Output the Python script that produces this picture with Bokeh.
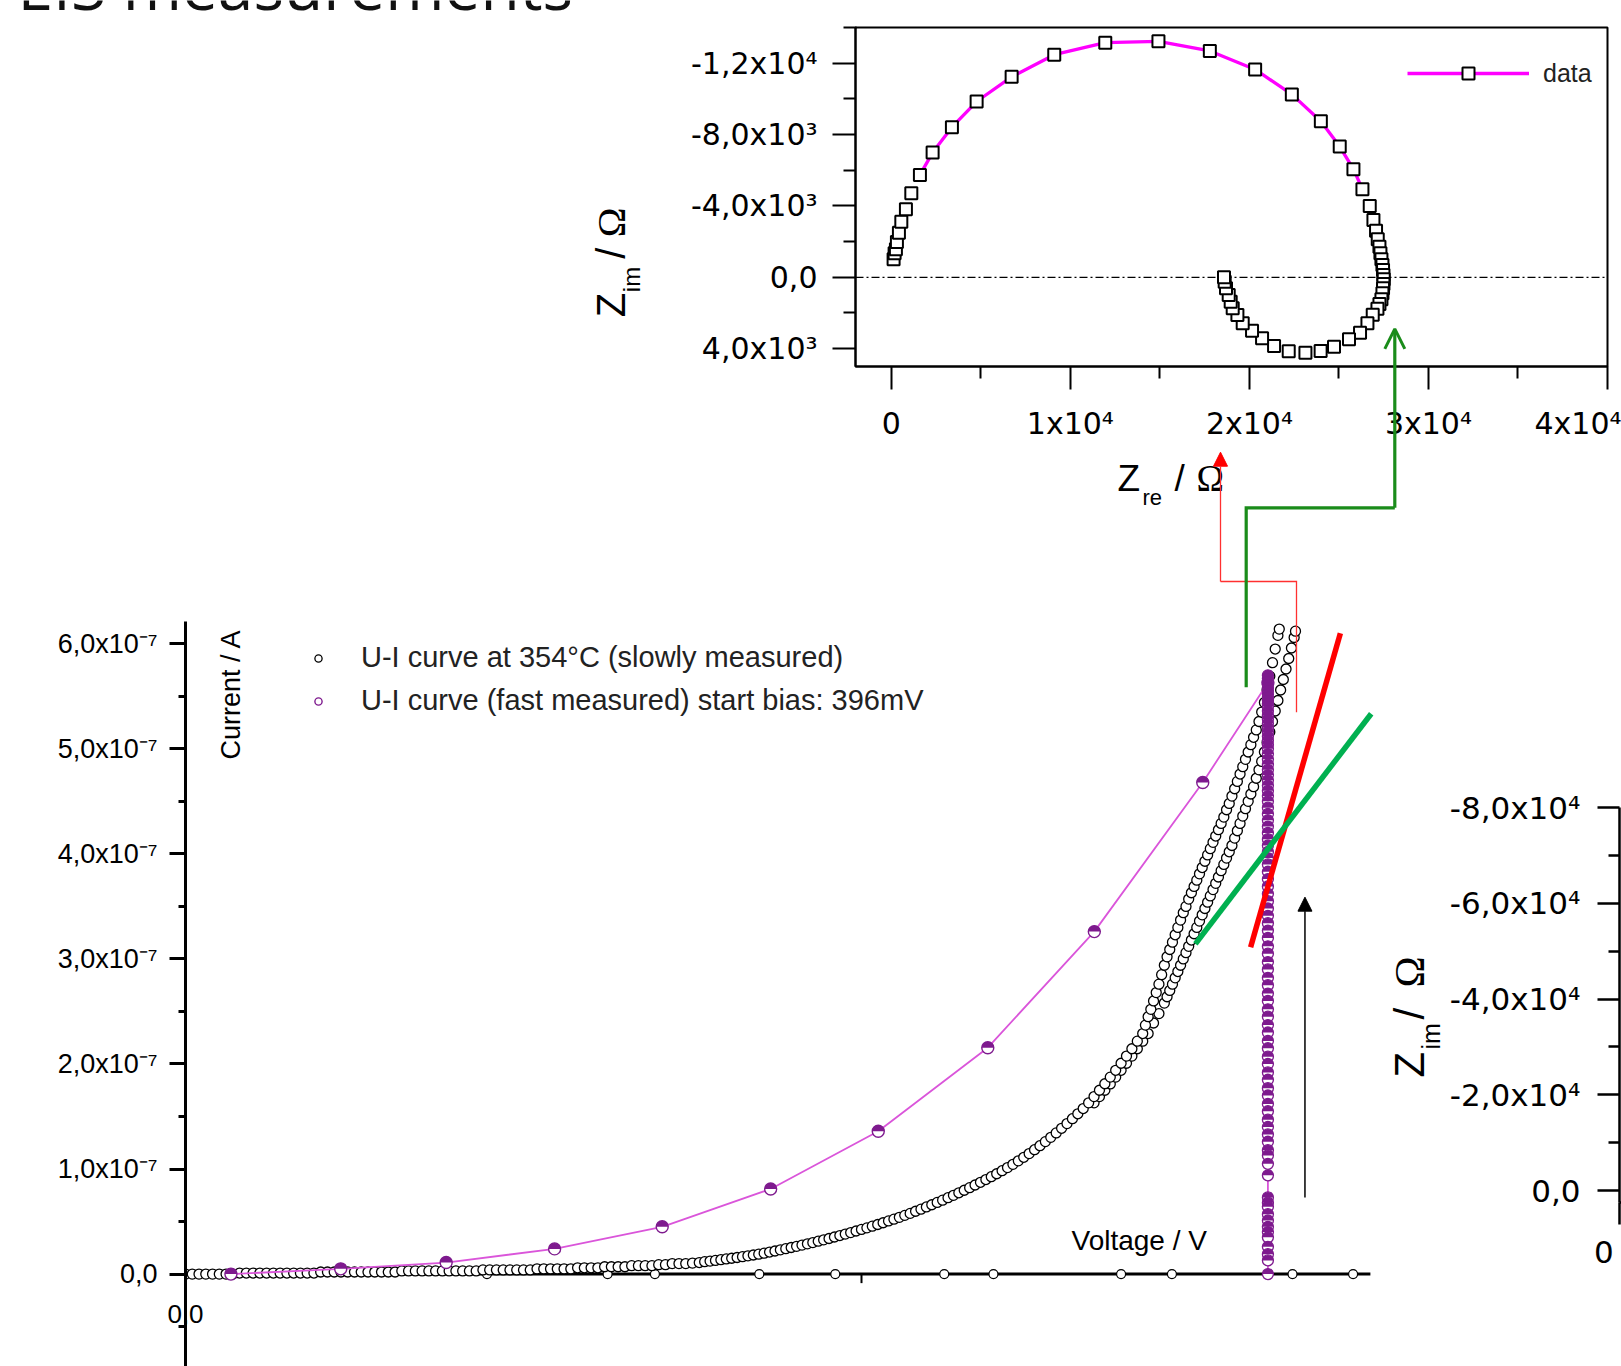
import math
from bokeh.plotting import figure
from bokeh.layouts import column, row
from bokeh.models import (Range1d, FixedTicker, Label, Arrow, NormalHead, OpenHead,
                          Legend, LegendItem, ColumnDataSource, Span, Spacer)
from bokeh.embed import file_html
from bokeh.resources import INLINE

# ======================= DATA =======================
# --- EIS spectrum (Nyquist), Ohm ---
nyq_zre = [128, 184, 257, 313, 425, 559, 816, 1117, 1598, 2307, 3385, 4765,
           6720, 9100, 11950, 14920, 17790, 20320, 22370, 23990, 25045, 25810,
           26313, 26721, 26927, 27073, 27168, 27263, 27318, 27374, 27430, 27464,
           27486, 27503, 27486, 27464, 27430, 27374, 27263, 27151, 26888, 26592,
           26179, 25564, 24726, 23978, 23129, 22196, 21377, 20707, 20147, 19626,
           19330, 19067, 18955, 18844, 18693, 18620, 18581]
nyq_zim = [-1010, -1346, -1571, -1980, -2502, -3119, -3815, -4712, -5739, -6990,
           -8415, -9851, -11237, -12476, -13150, -13225, -12684, -11650, -10250,
           -8750, -7328, -6059, -4937, -4000, -3215, -2615, -2132, -1717, -1346,
           -1010, -690, -410, -129, 112, 376, 617, 898, 1234, 1500, 1760, 2098,
           2581, 3108, 3478, 3893, 4135, 4230, 4140, 3850, 3422, 2996, 2581, 2115,
           1739, 1369, 993, 617, 247, 0]
nyq_line_first, nyq_line_last = 8, 22          # points joined by the magenta line

nyq_xticks = [0, 10000, 20000, 30000, 40000]
nyq_xminor = [5000, 15000, 25000, 35000]
nyq_xlabels = ["0", "1x10⁴", "2x10⁴", "3x10⁴", "4x10⁴"]
nyq_yticks = [-12000, -8000, -4000, 0, 4000]
nyq_yminor = [-10000, -6000, -2000, 2000]
nyq_ylabels = ["-1,2x10⁴", "-8,0x10³", "-4,0x10³", "0,0", "4,0x10³"]

# --- U-I curves: voltage in V, current in units of 1e-7 A ---
slowA_V = [0.0000, 0.0025, 0.0050, 0.0075, 0.0100, 0.0125, 0.0150, 0.0175, 0.0200, 0.0225,
           0.0250, 0.0275, 0.0300, 0.0325, 0.0350, 0.0375, 0.0400, 0.0425, 0.0450, 0.0475,
           0.0500, 0.0525, 0.0550, 0.0575, 0.0600, 0.0625, 0.0650, 0.0675, 0.0700, 0.0725,
           0.0750, 0.0775, 0.0800, 0.0825, 0.0850, 0.0875, 0.0900, 0.0925, 0.0950, 0.0975,
           0.1000, 0.1025, 0.1050, 0.1075, 0.1100, 0.1125, 0.1150, 0.1175, 0.1200, 0.1225,
           0.1250, 0.1275, 0.1300, 0.1325, 0.1350, 0.1375, 0.1400, 0.1425, 0.1450, 0.1475,
           0.1500, 0.1525, 0.1550, 0.1575, 0.1600, 0.1625, 0.1650, 0.1675, 0.1700, 0.1725,
           0.1750, 0.1775, 0.1800, 0.1825, 0.1850, 0.1875, 0.1900,
           0.192, 0.194, 0.196, 0.198, 0.200, 0.202, 0.204, 0.206, 0.208, 0.210,
           0.212, 0.214, 0.216, 0.218, 0.220, 0.222, 0.224, 0.226, 0.228, 0.230,
           0.232, 0.234, 0.236, 0.238, 0.240, 0.242, 0.244, 0.246, 0.248, 0.250,
           0.252, 0.254, 0.256, 0.258, 0.260, 0.262, 0.264, 0.266, 0.268, 0.270,
           0.272, 0.274, 0.276, 0.278, 0.280, 0.282, 0.284, 0.286, 0.288, 0.290,
           0.292, 0.294, 0.296, 0.298, 0.300, 0.302, 0.304, 0.306, 0.308, 0.310,
           0.312, 0.314, 0.316, 0.318, 0.320, 0.322, 0.324, 0.326, 0.328, 0.330,
           0.332, 0.334, 0.336, 0.338, 0.340, 0.342, 0.344, 0.346, 0.348, 0.350,
           0.352, 0.354,
           0.355, 0.356, 0.357, 0.358, 0.359, 0.360, 0.361, 0.362, 0.363, 0.364,
           0.365, 0.366, 0.367, 0.368, 0.369, 0.370, 0.371, 0.372, 0.373, 0.374,
           0.375, 0.376, 0.377, 0.378, 0.379, 0.380, 0.381, 0.382, 0.383, 0.384,
           0.385, 0.386, 0.387, 0.388, 0.389, 0.390, 0.391, 0.392, 0.393, 0.394,
           0.395, 0.396, 0.397, 0.398, 0.399, 0.400, 0.401, 0.402, 0.403, 0.404,
           0.4045]
slowA_I = [0.00, 0.00, 0.00, 0.00, 0.00, 0.00, 0.00, 0.00, 0.01, 0.01,
           0.01, 0.01, 0.01, 0.01, 0.01, 0.01, 0.01, 0.01, 0.01, 0.01,
           0.02, 0.02, 0.02, 0.02, 0.02, 0.02, 0.02, 0.02, 0.02, 0.02,
           0.02, 0.02, 0.03, 0.03, 0.03, 0.03, 0.03, 0.03, 0.03, 0.03,
           0.03, 0.03, 0.03, 0.03, 0.04, 0.04, 0.04, 0.04, 0.04, 0.04,
           0.04, 0.04, 0.05, 0.05, 0.05, 0.05, 0.05, 0.05, 0.06, 0.06,
           0.06, 0.06, 0.07, 0.07, 0.07, 0.07, 0.08, 0.08, 0.08, 0.08,
           0.09, 0.09, 0.10, 0.10, 0.10, 0.105, 0.11,
           0.118, 0.124, 0.130, 0.137, 0.144, 0.151, 0.158, 0.166, 0.174, 0.182,
           0.190, 0.199, 0.210, 0.220, 0.231, 0.242, 0.253, 0.264, 0.276, 0.288,
           0.300, 0.313, 0.326, 0.339, 0.353, 0.367, 0.381, 0.395, 0.410, 0.425,
           0.440, 0.456, 0.472, 0.489, 0.506, 0.523, 0.540, 0.559, 0.578, 0.598,
           0.618, 0.639, 0.660, 0.682, 0.704, 0.727, 0.750, 0.774, 0.798, 0.823,
           0.848, 0.874, 0.900, 0.927, 0.955, 0.984, 1.014, 1.045, 1.078, 1.112,
           1.147, 1.184, 1.222, 1.261, 1.302, 1.344, 1.388, 1.433, 1.479, 1.526,
           1.576, 1.630, 1.690, 1.750, 1.812, 1.875, 1.940, 2.007, 2.075, 2.145,
           2.217, 2.290,
           2.37, 2.45, 2.52, 2.60, 2.68, 2.76, 2.85, 2.94, 3.02, 3.09,
           3.16, 3.23, 3.30, 3.37, 3.44, 3.50, 3.57, 3.63, 3.69, 3.75,
           3.81, 3.87, 3.93, 3.99, 4.05, 4.11, 4.17, 4.23, 4.29, 4.35,
           4.42, 4.48, 4.55, 4.62, 4.69, 4.76, 4.83, 4.90, 4.97, 5.04,
           5.11, 5.18, 5.26, 5.35, 5.44, 5.56, 5.69, 5.82, 5.95, 6.08,
           6.14]
slowB_V = [0.336, 0.338, 0.340, 0.342, 0.344, 0.346, 0.348, 0.350, 0.352, 0.354,
           0.356, 0.358, 0.360, 0.362,
           0.363, 0.364, 0.365, 0.366, 0.367, 0.368, 0.369, 0.370, 0.371, 0.372,
           0.373, 0.374, 0.375, 0.376, 0.377, 0.378, 0.379, 0.380, 0.381, 0.382,
           0.383, 0.384, 0.385, 0.386, 0.387, 0.388, 0.389, 0.390, 0.391, 0.392,
           0.393, 0.394, 0.395, 0.396, 0.397, 0.398, 0.399, 0.400, 0.401, 0.402,
           0.403, 0.404, 0.405, 0.406, 0.407, 0.408, 0.409, 0.410, 0.4105]
slowB_I = [1.63, 1.69, 1.75, 1.81, 1.875, 1.94, 2.007, 2.075, 2.145, 2.217,
           2.29, 2.39, 2.48, 2.58,
           2.64, 2.70, 2.76, 2.82, 2.88, 2.94, 3.00, 3.06, 3.12, 3.18,
           3.24, 3.30, 3.36, 3.42, 3.48, 3.54, 3.60, 3.66, 3.72, 3.78,
           3.84, 3.90, 3.96, 4.02, 4.08, 4.15, 4.22, 4.29, 4.36, 4.43,
           4.50, 4.57, 4.64, 4.72, 4.80, 4.88, 4.97, 5.06, 5.16, 5.26,
           5.36, 5.46, 5.56, 5.66, 5.76, 5.86, 5.96, 6.06, 6.12]
fast_V = [0.0168, 0.0574, 0.0964, 0.1365, 0.1763, 0.2164, 0.2562, 0.2967, 0.3361, 0.3762, 0.4003]
fast_I = [0.00, 0.05, 0.11, 0.24, 0.45, 0.81, 1.36, 2.155, 3.26, 4.68, 5.63]
hold_V = 0.4003
hold_I = [5.70, 5.67, 5.64, 5.61, 5.58, 5.55, 5.52, 5.49, 5.46, 5.43, 5.40, 5.36, 5.32,
          5.28, 5.24, 5.20, 5.16, 5.12, 5.08, 5.04, 5.00, 4.95, 4.90, 4.85, 4.80, 4.75,
          4.70, 4.65, 4.60, 4.55, 4.50, 4.44, 4.38, 4.32, 4.26, 4.20, 4.14, 4.08, 4.02,
          3.96, 3.90, 3.83, 3.76, 3.69, 3.62, 3.55, 3.48, 3.41, 3.34, 3.27, 3.20, 3.12,
          3.05, 2.97, 2.90, 2.82, 2.75, 2.67, 2.60, 2.52, 2.45, 2.37, 2.30, 2.22, 2.15,
          2.07, 2.00, 1.92, 1.85, 1.77, 1.70, 1.62, 1.55, 1.47, 1.40, 1.33, 1.26, 1.18,
          1.13, 1.05, 0.94, 0.73, 0.68, 0.64, 0.57, 0.51, 0.45, 0.40, 0.35, 0.26, 0.19,
          0.13, 0.00]
zero_V = [0.1115, 0.1561, 0.1736, 0.2122, 0.2403, 0.2806, 0.2988, 0.3460, 0.3648, 0.4094, 0.4318]
# slope lines (V, 1e-7 A)
red_slope_V = [0.3939, 0.4271]
red_slope_I = [3.112, 6.101]
green_slope_V = [0.3735, 0.4385]
green_slope_I = [3.144, 5.334]

ui_yticks = [-1, 0, 1, 2, 3, 4, 5, 6]
ui_yminor = [-1.5, -0.5, 0.5, 1.5, 2.5, 3.5, 4.5, 5.5]
ui_ylabels = ["-1,0x10⁻⁷", "0,0", "1,0x10⁻⁷", "2,0x10⁻⁷", "3,0x10⁻⁷", "4,0x10⁻⁷", "5,0x10⁻⁷", "6,0x10⁻⁷"]
ui_xtick_V = 0.25
ui_xaxis_end_V = 0.4382

rt_yticks = [-80000, -60000, -40000, -20000, 0]
rt_yminor = [-70000, -50000, -30000, -10000]
rt_ylabels = ["-8,0x10⁴", "-6,0x10⁴", "-4,0x10⁴", "-2,0x10⁴", "0,0"]

# ======================= LAYOUT (page px) =======================
PAGE_W, PAGE_H = 1621, 1366
TOP_H, TITLE_W = 500, 580
NQ_L, NQ_R, NQ_T, NQ_B = 855, 1607, 27, 366
NQ_X = (-2000, 40000)
NQ_Y = (5000, -14000)
UI_W, UI_L = 1385, 185
UI_X = (0.0, 0.443787)
UI_Y = (-0.8796, 7.3639)
RT_L, RT_T, RT_B = 1619, 807, 1202
RT_Y = (2500, -80000)

# connector paths of the slide (page px)
red_path_x, red_path_y = [1296, 1296, 1220], [711.7, 581, 581]
red_tip = (1220, 451.7)
green_path_x, green_path_y = [1245.7, 1245.7, 1394.3], [686.7, 507.3, 507.3]
green_tip = (1394.3, 328.3)

SANS = "Liberation Sans"
SERIF = "Liberation Serif"
TICKF = "DejaVu Sans"
RED, GREEN_D, GREEN_B = "#FF0000", "#1A8C1A", "#00B050"
PURPLE, MAGENTA_L = "#7E1A8E", "#DA55DA"
BASE_FIX = 0.38   # em offset between requested and rendered alphabetic baseline


def mkfig(w, h, xr, yr, **kw):
    p = figure(width=w, height=h, x_range=Range1d(*xr), y_range=Range1d(*yr),
               output_backend="svg", toolbar_location=None, title=None, **kw)
    p.grid.visible = False
    p.outline_line_color = None
    p.background_fill_color = "white"
    p.border_fill_color = "white"
    if "frame_align" in p.properties():
        p.frame_align = False
    return p


def style_axis(ax, lw, tout, mout, font, fsize, standoff):
    ax.axis_line_width = lw
    ax.axis_line_color = "black"
    ax.major_tick_out = tout
    ax.major_tick_in = 0
    ax.minor_tick_out = mout
    ax.minor_tick_in = 0
    ax.major_tick_line_width = lw
    ax.minor_tick_line_width = lw
    ax.major_tick_line_color = "black"
    ax.minor_tick_line_color = "black"
    ax.major_label_text_font = font
    ax.major_label_text_font_size = fsize
    ax.major_label_text_color = "black"
    ax.major_label_standoff = standoff


A90 = math.pi / 2


def lbl(p, x, y, text, size, font=SANS, angle=0.0, color="black", align="left"):
    # (x, y): page position of the text's baseline start (y grows downward)
    if angle:
        x = x - BASE_FIX * size
    else:
        y = y - BASE_FIX * size
    p.add_layout(Label(x=x, y=y, text=text, text_font=font, text_font_size=f"{size}px",
                       text_color=color, angle=angle, text_align=align, text_baseline="alphabetic"))


# ---------------- Nyquist plot ----------------
nq = mkfig(PAGE_W - TITLE_W, TOP_H, NQ_X, NQ_Y,
           min_border_left=NQ_L - TITLE_W, min_border_right=PAGE_W - NQ_R,
           min_border_top=NQ_T, min_border_bottom=TOP_H - NQ_B)
nq.outline_line_color = "black"
nq.outline_line_width = 2
style_axis(nq.xaxis[0], 2, 23, 12, TICKF, "30px", 16)
style_axis(nq.yaxis[0], 2, 23, 12, TICKF, "30px", 15)
nq.xaxis.ticker = FixedTicker(ticks=nyq_xticks, minor_ticks=nyq_xminor)
nq.xaxis.major_label_overrides = dict(zip(nyq_xticks, nyq_xlabels))
nq.yaxis.ticker = FixedTicker(ticks=nyq_yticks, minor_ticks=nyq_yminor)
nq.yaxis.major_label_overrides = dict(zip(nyq_yticks, nyq_ylabels))
nq.add_layout(Span(location=0, dimension="width", line_color="black", line_width=1.3,
                   line_dash="8 3 2 3", level="underlay"))
seg = ColumnDataSource(dict(zre=nyq_zre[nyq_line_first:nyq_line_last + 1],
                            zim=nyq_zim[nyq_line_first:nyq_line_last + 1]))
allp = ColumnDataSource(dict(zre=nyq_zre, zim=nyq_zim))
nq_line = nq.line("zre", "zim", source=seg, line_color="#FF00FF", line_width=3.3)
nq_sq = nq.scatter("zre", "zim", source=allp, marker="square", size=12,
                   line_color="black", line_width=2, fill_color="white")
nq.add_layout(Legend(items=[LegendItem(label="data", renderers=[nq_line, nq_sq])],
                     location=(1407 - NQ_L, NQ_B - 88), glyph_width=122, glyph_height=30,
                     label_standoff=14, label_text_font=SANS, label_text_font_size="25px",
                     label_text_color="#222222", padding=0, margin=0, spacing=0,
                     border_line_color=None, background_fill_alpha=0))

# ---------------- U-I plot ----------------
ui = mkfig(UI_W, PAGE_H - TOP_H, UI_X, UI_Y, x_axis_location=None, y_axis_location="left",
           min_border_left=UI_L, min_border_right=0, min_border_top=0, min_border_bottom=0)
style_axis(ui.yaxis[0], 3, 16, 7, SANS, "27px", 12)
ui.yaxis.ticker = FixedTicker(ticks=ui_yticks, minor_ticks=ui_yminor)
ui.yaxis.major_label_overrides = dict(zip(ui_yticks, ui_ylabels))
ui.yaxis.bounds = (-2, 6.21)
# x axis drawn at I = 0
ui.line([0, ui_xaxis_end_V], [0, 0], line_color="black", line_width=3)
ui.segment(x0=[ui_xtick_V], y0=[0], x1=[ui_xtick_V], y1=[-0.086], line_color="black", line_width=2)
ui.scatter(zero_V, [0] * len(zero_V), marker="circle", size=9, fill_color="white",
           line_color="black", line_width=1.2)
ui.scatter(slowB_V, slowB_I, marker="circle", size=10, fill_color="white",
           line_color="black", line_width=1.3)
slowA_r = ui.scatter(slowA_V, slowA_I, marker="circle", size=10, fill_color="white",
                     line_color="black", line_width=1.3)
ui.line(fast_V + [hold_V] * len(hold_I), fast_I + hold_I, line_color=MAGENTA_L, line_width=1.8)
fast_r = ui.scatter(fast_V, fast_I, marker="circle", size=12, fill_color="white",
                    line_color=PURPLE, line_width=1.4)
ui.wedge(fast_V, fast_I, radius=6, radius_units="screen", start_angle=0, end_angle=math.pi,
         fill_color=PURPLE, line_color=None)
hx = [hold_V] * len(hold_I)
ui.scatter(hx, hold_I, marker="circle", size=11, fill_color="white",
           line_color=PURPLE, line_width=1.3)
ui.wedge(hx, hold_I, radius=5.5, radius_units="screen", start_angle=0, end_angle=math.pi,
         fill_color=PURPLE, line_color=None)
ui.line(red_slope_V, red_slope_I, line_color=RED, line_width=5.5)
ui.line(green_slope_V, green_slope_I, line_color=GREEN_B, line_width=5.5)
ui.add_layout(Arrow(end=NormalHead(size=14, fill_color="black", line_color="black"),
                    x_start=0.4140, y_start=0.729, x_end=0.4140, y_end=3.588,
                    line_color="black", line_width=1.5))
ui.add_layout(Legend(items=[LegendItem(label="U-I curve at 354°C (slowly measured)", renderers=[slowA_r]),
                            LegendItem(label="U-I curve (fast measured) start bias: 396mV", renderers=[fast_r])],
                     location=(308 - UI_L, PAGE_H - 717), glyph_width=20, glyph_height=18,
                     label_standoff=33, label_text_font=SANS, label_text_font_size="29px",
                     label_text_color="#222222", padding=0, margin=0, spacing=10,
                     border_line_color=None, background_fill_alpha=0))

# ---------------- partial impedance plot (right edge) ----------------
rt = mkfig(PAGE_W - UI_W, PAGE_H - TOP_H, (0, 1), RT_Y,
           min_border_left=RT_L - UI_W, min_border_right=0,
           min_border_top=RT_T - TOP_H, min_border_bottom=PAGE_H - RT_B)
style_axis(rt.yaxis[0], 2.5, 22, 11, TICKF, "31px", 17)
style_axis(rt.xaxis[0], 2.5, 22, 11, TICKF, "31px", 16)
rt.yaxis.ticker = FixedTicker(ticks=rt_yticks, minor_ticks=rt_yminor)
rt.yaxis.major_label_overrides = dict(zip(rt_yticks, rt_ylabels))
rt.xaxis.ticker = FixedTicker(ticks=[0], minor_ticks=[])
rt.xaxis.major_label_overrides = {0: "0"}

# ---------------- transparent slide layer (page px) ----------------
ov = figure(width=PAGE_W, height=PAGE_H, x_range=Range1d(0, PAGE_W), y_range=Range1d(PAGE_H, 0),
            x_axis_location=None, y_axis_location=None, output_backend="svg",
            toolbar_location=None, title=None, min_border_left=0, min_border_right=0,
            min_border_top=0, min_border_bottom=0)
ov.grid.visible = False
ov.outline_line_color = None
ov.background_fill_color = None
ov.border_fill_color = None
if "frame_align" in ov.properties():
    ov.frame_align = False
ov.margin = (-PAGE_H, 0, 0, 0)

lbl(ov, 17, 9, "EIS measurements", 64, font="Open Sans", color="#111111")
# Nyquist axis titles
lbl(ov, 1117, 491.7, "Z", 37)
lbl(ov, 1142, 505, "re", 22)
lbl(ov, 1174, 491.7, "/", 37)
lbl(ov, 1196, 491.7, "Ω", 37, font=SERIF)
lbl(ov, 626, 316.7, "Z", 40, angle=A90)
lbl(ov, 640, 291.7, "im", 24, angle=A90)
lbl(ov, 626, 258.3, "/", 40, angle=A90)
lbl(ov, 626, 236.7, "Ω", 40, font=SERIF, angle=A90)
# right plot axis title
lbl(ov, 1425, 1077, "Z", 42, angle=A90)
lbl(ov, 1440, 1049, "im", 25, angle=A90)
lbl(ov, 1425, 1019, "/", 42, angle=A90)
lbl(ov, 1425, 987, "Ω", 42, font=SERIF, angle=A90)
# U-I axis texts
lbl(ov, 241, 759, "Current / A", 27, angle=A90)
lbl(ov, 1071, 1251, "Voltage / V", 28)
lbl(ov, UI_L, 1323, "0,0", 26, align="center")
# small top-frame overhang of the Nyquist box
ov.line([843, 856], [27, 27], line_color="black", line_width=2)
# connectors
ov.line(red_path_x, red_path_y, line_color="#FF3030", line_width=1.3, line_join="miter")
ov.add_layout(Arrow(end=NormalHead(size=14, fill_color=RED, line_color=RED),
                    x_start=red_path_x[-1], y_start=red_path_y[-1], x_end=red_tip[0], y_end=red_tip[1],
                    line_color="#FF3030", line_width=1.3))
ov.line(green_path_x, green_path_y, line_color=GREEN_D, line_width=3.2, line_join="miter")
ov.add_layout(Arrow(end=OpenHead(size=20, line_color=GREEN_D, line_width=3),
                    x_start=green_path_x[-1], y_start=green_path_y[-1], x_end=green_tip[0], y_end=green_tip[1],
                    line_color=GREEN_D, line_width=3.2))

root = column(row(Spacer(width=TITLE_W, height=TOP_H), nq, spacing=0),
              row(ui, rt, spacing=0), ov, spacing=0)

open("out.html", "w").write(file_html(root, INLINE))
